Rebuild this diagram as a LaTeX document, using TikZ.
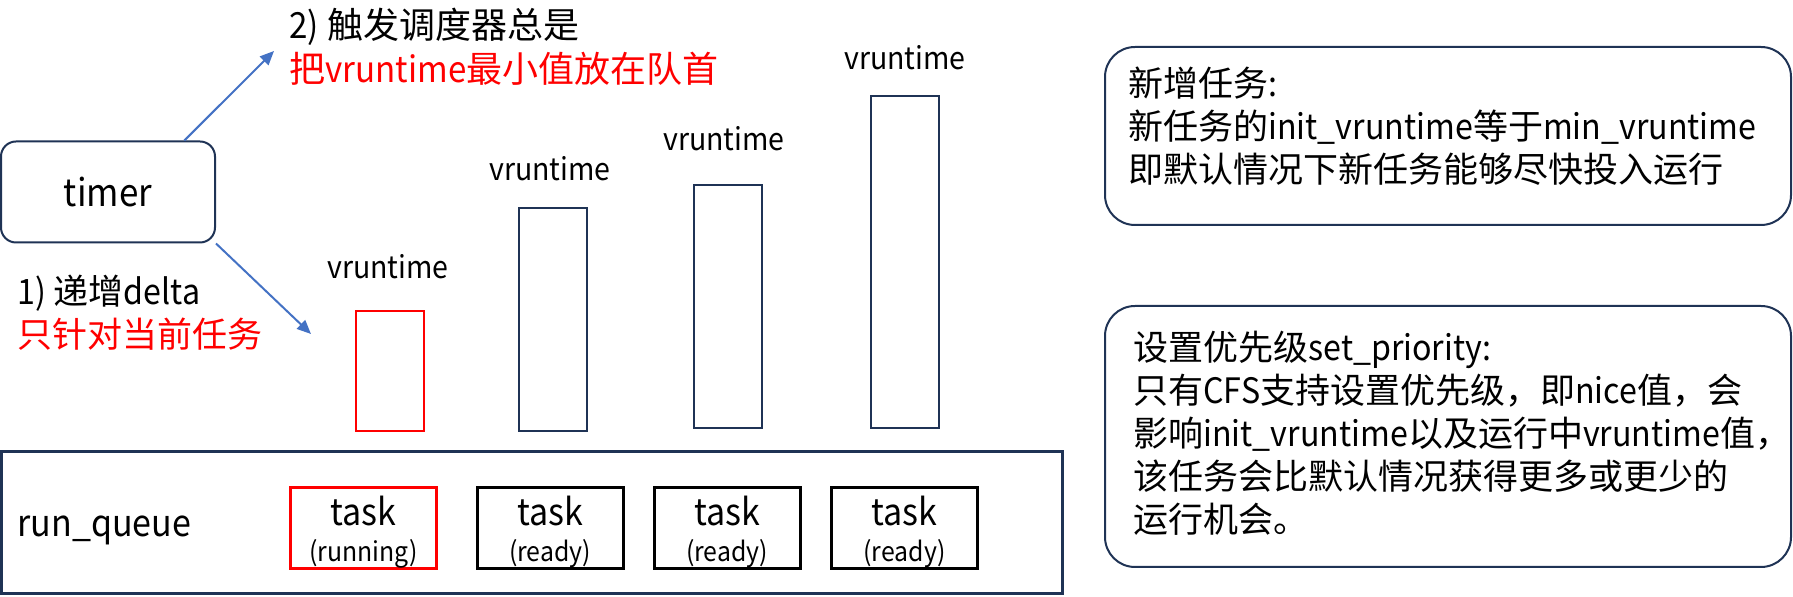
\documentclass[tikz,border=0pt]{standalone}
\usepackage{fontspec}
\setmainfont{Noto Sans CJK SC}
\newfontfamily\latfont[FakeStretch=0.92]{Noto Sans CJK SC}
\usetikzlibrary{arrows.meta,positioning}
\definecolor{navy}{HTML}{1F3355}
\definecolor{arrowblue}{HTML}{4472C4}
\definecolor{pptred}{HTML}{FF0000}
\newcommand{\setfs}[2]{\fontsize{#1}{#2}\selectfont}
\newcommand{\taskstate}[1]{\rule{0pt}{18.5pt}task\\{\setfs{13.5}{18}(#1)}}

\begin{document}
\begin{tikzpicture}[x=0.5pt,y=-0.5pt,>={Triangle[length=7pt,width=6pt]},
    bar node/.style={draw=navy,line width=1pt,minimum width=34pt,inner sep=0pt},
    vr label/.style={anchor=base,inner sep=0pt,font={\latfont\setfs{15.5}{15.5}}},
    task node/.style={draw=black,line width=1.5pt,minimum width=73pt,minimum height=40.5pt,inner sep=0pt,align=center,
        font={\latfont\setfs{18.5}{18}}},
    note node/.style={draw=navy,line width=1pt,rounded corners=15pt,minimum width=343pt,inner sep=0pt},
    note text/.style={anchor=north west,inner sep=0pt,align=left,font={\setfs{17.5}{21.5}}},
    step text/.style={anchor=base west,inner sep=0pt,font={\setfs{17.5}{17.5}}}]

    \useasboundingbox (0,0) rectangle (1793,597);

    % timer and its two actions
    \node[draw=navy,line width=1pt,rounded corners=7.5pt,minimum width=107pt,minimum height=50.5pt,font={\latfont\setfs{19}{19}}] (timer) at (108,192) {timer};
    \coordinate (sched) at (274,51);
    \coordinate (incr) at (311,334);
    \draw[->,arrowblue,line width=1pt] (timer.34) -- (sched);
    \draw[->,arrowblue,line width=1pt] (timer.south east) -- (incr);

    \node[step text,font={\setfs{18}{18}}] (step2) at (289,39) {{\latfont 2)} 触发调度器总是};
    \node[step text,font={\setfs{18}{18}},text=pptred] (step2r) at (289,83) {把{\latfont vruntime}最小值放在队首};
    \node[step text] (step1) at (17,305) {{\latfont 1)} 递增{\latfont delta}};
    \node[step text,text=pptred] (step1r) at (17,348) {只针对当前任务};

    % vruntime bars
    \node[bar node,draw=pptred,minimum height=60pt] (bar1) at (390,371) {};
    \node[bar node,minimum height=111.5pt] (bar2) at (553,319.5) {};
    \node[bar node,minimum height=121.5pt] (bar3) at (728,306.5) {};
    \node[bar node,minimum height=166pt] (bar4) at (905,262) {};
    \node[vr label] (vr1) at (388,279) {vruntime};
    \node[vr label] (vr2) at (550,181) {vruntime};
    \node[vr label] (vr3) at (724,151) {vruntime};
    \node[vr label] (vr4) at (905,70) {vruntime};

    % run queue
    \node[draw=navy,line width=1.5pt,minimum width=530.75pt,minimum height=71pt,inner sep=0pt] (rq) at (532,523) {};
    \node[anchor=base west,inner sep=0pt,font={\latfont\setfs{18.5}{18.5}}] (rqlabel) at (17,537) {run\_queue};
    \node[task node,draw=pptred] (task1) at (363.5,528) {\taskstate{running}};
    \node[task node] (task2) at (550,528) {\taskstate{ready}};
    \node[task node] (task3) at (727,528) {\taskstate{ready}};
    \node[task node] (task4) at (904.5,528) {\taskstate{ready}};

    % notes
    \node[note node,minimum height=89pt] (note1) at (1448,136) {};
    \node[note text,below right=10.5pt and 12pt of note1.north west] (note1text)
        {新增任务{\latfont :}\\新任务的{\latfont init\_vruntime}等于{\latfont min\_vruntime}\\即默认情况下新任务能够尽快投入运行};
    \node[note node,minimum height=130.5pt] (note2) at (1448,436.5) {};
    \node[note text,below right=13pt and 14.5pt of note2.north west] (note2text)
        {设置优先级{\latfont set\_priority:}\\只有{\latfont CFS}支持设置优先级，即{\latfont nice}值，会\\影响{\latfont init\_vruntime}以及运行中{\latfont vruntime}值，\\该任务会比默认情况获得更多或更少的\\运行机会。};
\end{tikzpicture}
\end{document}
